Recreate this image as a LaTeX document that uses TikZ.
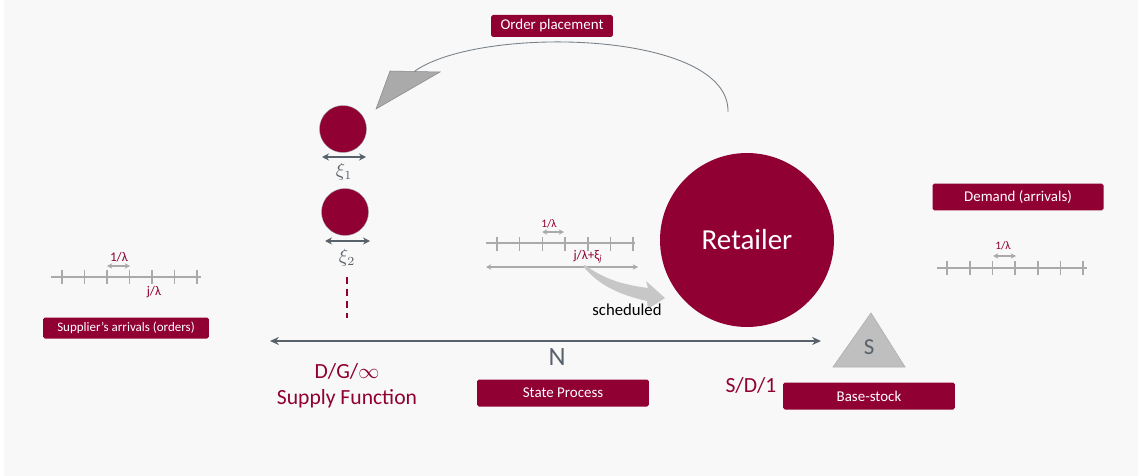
\documentclass[tikz,border=0pt]{standalone}
\usepackage{fontspec}
\setmainfont{Carlito}
\usepackage{tikz}
\usetikzlibrary{arrows.meta}
\usetikzlibrary{positioning}

\definecolor{wine}{RGB}{144,0,50}
\definecolor{slate}{RGB}{89,97,106}
\definecolor{ltgray}{RGB}{170,170,170}
\definecolor{panel}{RGB}{248,248,248}

\begin{document}
\begin{tikzpicture}
    [
    x=0.02cm,y=-0.02cm,
    tagbox/.style={fill=wine,text=white,rounded corners=1pt,inner sep=0pt,minimum height=0.44cm,font=\fontsize{8.5}{9}\selectfont},
    ball/.style={circle,fill=wine,draw=slate!60,very thin,inner sep=0pt,minimum size=0.94cm},
    axis/.style={ltgray,line width=0.9pt},
    gap/.style={<->,>={Stealth[length=3pt,width=3pt]},ltgray,line width=0.8pt},
    spread/.style={<->,>={Stealth[length=4pt,width=4pt]},slate,line width=1.1pt},
    rate/.style={text=wine,font=\fontsize{6.5}{7}\selectfont,inner sep=1pt},
    bigred/.style={text=wine,font=\fontsize{12.3}{13}\selectfont}
    ]
    \useasboundingbox (0,0) rectangle (1145,476);
    \fill[panel] (4,0) rectangle (1138,476);

    % main actors
    \node (retailer) [circle,fill=wine,inner sep=0pt,minimum size=3.48cm,text=white,font=\fontsize{16.5}{17}\selectfont] at (747,240) {Retailer};
    \node (o1) [ball] at (343,129) {};
    \node (o2) [ball] at (345,212) {};

    % labels in boxes
    \node (order) [tagbox,minimum width=2.44cm] at (552,26) {Order placement};
    \node (supplier) [tagbox,minimum width=3.32cm,minimum height=0.42cm,font=\fontsize{7.4}{8}\selectfont] at (126,328) {Supplier’s arrivals (orders)};
    \node (demand) [tagbox,minimum width=3.42cm,minimum height=0.54cm] at (1018,197) {Demand (arrivals)};
    \node (state) [tagbox,minimum width=3.44cm,minimum height=0.54cm] at (563,393) {State Process};
    \node (base) [tagbox,minimum width=3.44cm,minimum height=0.54cm] at (869,396) {Base-stock};

    % order placement loop
    \coordinate (loopstart) at (728,112);
    \coordinate (loopend) at (415,71);
    \draw[slate!80,line width=0.5pt] (loopstart) .. controls (730,30) and (480,25) .. (loopend);
    \filldraw[fill=ltgray,draw=ltgray!80!black,line width=0.3pt] (390,71) -- (440,72) -- (376,109) -- cycle;

    % lead times of the outstanding orders
    \coordinate (s1l) at (322,157); \coordinate (s1r) at (366,157);
    \coordinate (s2l) at (325,241); \coordinate (s2r) at (370,241);
    \draw[spread] (s1l) -- (s1r);
    \draw[spread] (s2l) -- (s2r);
    \node (xi1) [text=slate,font=\fontsize{10.5}{11}\selectfont] at (344,172) {$\xi_1$};
    \node (xi2) [text=slate,font=\fontsize{10.5}{11}\selectfont] at (347,258) {$\xi_2$};
    \coordinate (dtop) at (347,277); \coordinate (dbot) at (347,318);
    \draw[wine,line width=1.7pt,dash pattern=on 4pt off 2.8pt] (dtop) -- (dbot);

    % supplier time axis
    \coordinate (sa) at (51,277); \coordinate (sb) at (201,277);
    \draw[axis] (sa) -- (sb);
    \foreach \i in {0,...,6}
      \draw[axis] (62+22.5*\i,270) -- ++(0,14);
    \coordinate (sg1) at (107,266); \coordinate (sg2) at (130,266);
    \draw[gap] (sg1) -- (sg2);
    \node (srate) [rate,font=\fontsize{7.5}{8}\selectfont] at (119,257) {1/λ};
    \node (sj) [rate,font=\fontsize{7.5}{8}\selectfont] at (154,292) {j/λ};

    % scheduled time axis
    \coordinate (ma) at (486,243); \coordinate (mb) at (635,243);
    \draw[axis] (ma) -- (mb);
    \foreach \i in {0,...,6}
      \draw[axis] (497+22.7*\i,237) -- ++(0,14);
    \coordinate (mg1) at (542,232); \coordinate (mg2) at (564,232);
    \draw[gap] (mg1) -- (mg2);
    \node (mrate) [rate] at (549,224) {1/λ};
    \node (mj) [rate,font=\fontsize{7.5}{8}\selectfont] at (588,257) {j/λ+ξ\textsubscript{\itshape j}};
    \coordinate (ml) at (486,267); \coordinate (mr) at (638,267);
    \draw[gap,line width=1pt] (ml) -- (mr);

    % scheduled
    \fill[black!22] (585,265) .. controls (605,280) and (625,285) .. (648,288)
      -- (646,281) -- (665,298) -- (648,309) -- (647,301)
      .. controls (620,295) and (598,285) .. (583,266) -- cycle;
    \node (sched) [font=\fontsize{9.5}{10}\selectfont] at (627,310) {scheduled};

    % demand time axis
    \node (drate) [rate] at (1003,246) {1/λ};
    \coordinate (da) at (937,268); \coordinate (db) at (1087,268);
    \draw[axis] (da) -- (db);
    \foreach \i in {0,...,6}
      \draw[axis] (947+22.7*\i,261) -- ++(0,14);
    \coordinate (dg1) at (993,256); \coordinate (dg2) at (1016,256);
    \draw[gap] (dg1) -- (dg2);

    % state N
    \coordinate (na) at (270,341); \coordinate (nb) at (821,341);
    \draw[<->,>={Stealth[length=5pt,width=4.5pt]},slate,line width=0.9pt] (na) -- (nb);
    \node (n) [text=slate,font=\fontsize{15}{16}\selectfont] at (557,357) {N};
    \node (dginf) [bigred] at (347,371) {D/G/$\infty$};
    \node (supfun) [bigred] at (347,399) {Supply Function};
    \node (sd1) [bigred] at (751,385) {S/D/1};

    % base-stock triangle
    \filldraw[fill=black!25,draw=black!30,line width=0.4pt] (833,367) -- (871,313) -- (905,367) -- cycle;
    \node (s) [text=slate,font=\fontsize{13}{14}\selectfont] at (869,347) {S};
\end{tikzpicture}
\end{document}
